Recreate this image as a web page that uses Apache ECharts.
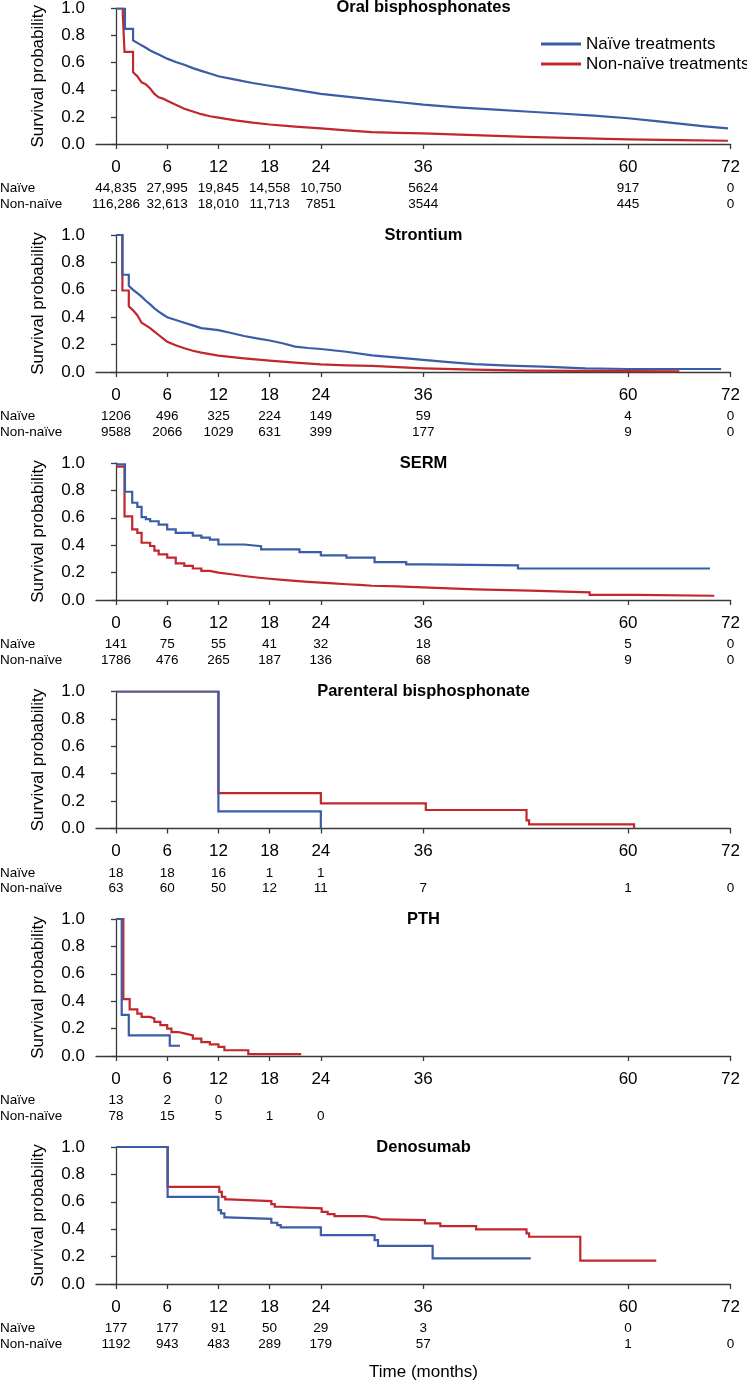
<!DOCTYPE html>
<html><head><meta charset="utf-8">
<script src="https://cdn.jsdelivr.net/npm/echarts@6/dist/echarts.min.js"></script>
<style>html,body{margin:0;padding:0;background:#fff}#c{width:747px;height:1381px}</style>
</head><body><div id="c"></div>
<script>
// ---------- DATA ----------
const panelTitles = ['Oral bisphosphonates', 'Strontium', 'SERM', 'Parenteral bisphosphonate', 'PTH', 'Denosumab'];
const tickMonths = [0, 6, 12, 18, 24, 36, 60, 72];
const seriesNames = ['Naïve treatments', 'Non-naïve treatments'];
const riskRowLabels = ['Naïve', 'Non-naïve'];
const xAxisTitle = 'Time (months)';
const yAxisTitle = 'Survival probability';

// numbers at risk (one entry per tick month, shorter rows stop early)
const oralRiskNaive = ['44,835', '27,995', '19,845', '14,558', '10,750', '5624', '917', '0'];
const oralRiskNonNaive = ['116,286', '32,613', '18,010', '11,713', '7851', '3544', '445', '0'];
const strontiumRiskNaive = ['1206', '496', '325', '224', '149', '59', '4', '0'];
const strontiumRiskNonNaive = ['9588', '2066', '1029', '631', '399', '177', '9', '0'];
const sermRiskNaive = ['141', '75', '55', '41', '32', '18', '5', '0'];
const sermRiskNonNaive = ['1786', '476', '265', '187', '136', '68', '9', '0'];
const parenteralRiskNaive = ['18', '18', '16', '1', '1'];
const parenteralRiskNonNaive = ['63', '60', '50', '12', '11', '7', '1', '0'];
const pthRiskNaive = ['13', '2', '0'];
const pthRiskNonNaive = ['78', '15', '5', '1', '0'];
const denosumabRiskNaive = ['177', '177', '91', '50', '29', '3', '0'];
const denosumabRiskNonNaive = ['1192', '943', '483', '289', '179', '57', '1', '0'];

// Survival curves: [month, survival probability]
// Oral bisphosphonates & strontium: dense curves given as vertices (repeated month = vertical drop)
const oralNaive = [[0,1],[1.05,1],[1.05,0.85],[2.0,0.85],[2.0,0.765],[2.8,0.735],[3.5,0.71],[4,0.69],[5,0.66],[6,0.63],[7,0.605],[8,0.585],[9,0.56],[10,0.54],[11,0.52],[12,0.50],[14,0.475],[16,0.45],[18,0.43],[20,0.41],[22,0.39],[24,0.37],[27,0.35],[30,0.33],[33,0.31],[36,0.29],[40,0.27],[44,0.255],[48,0.24],[52,0.225],[56,0.21],[60,0.19],[63,0.17],[66,0.15],[69,0.13],[71.7,0.115]];
const oralNonNaive = [[0,1],[0.8,1],[0.8,0.95],[1.0,0.95],[1.0,0.68],[2.0,0.68],[2.0,0.53],[2.5,0.50],[3,0.455],[3.5,0.44],[4,0.41],[4.5,0.37],[5,0.345],[5.5,0.335],[6,0.32],[7,0.29],[8,0.26],[9,0.24],[10,0.22],[11,0.205],[12,0.195],[14,0.175],[16,0.158],[18,0.144],[21,0.128],[24,0.115],[27,0.10],[30,0.087],[33,0.082],[36,0.078],[42,0.065],[48,0.053],[54,0.043],[60,0.034],[66,0.028],[71.7,0.024]];
const strontiumNaive = [[0,1],[0.75,1],[0.75,0.71],[1.5,0.71],[1.5,0.63],[2,0.60],[2.5,0.575],[3,0.55],[3.5,0.52],[4,0.494],[4.5,0.465],[5,0.44],[5.5,0.42],[6,0.40],[7,0.38],[8,0.36],[9,0.34],[10,0.32],[12,0.306],[13.5,0.285],[15,0.263],[16.5,0.245],[18,0.23],[19.5,0.21],[21,0.185],[22.5,0.175],[24,0.168],[27,0.148],[30,0.122],[33,0.105],[36,0.088],[39,0.072],[42,0.058],[46,0.047],[50,0.039],[55,0.027],[60,0.022],[70.9,0.022]];
const strontiumNonNaive = [[0,1],[0.75,1],[0.75,0.595],[1.5,0.595],[1.5,0.48],[2,0.45],[2.5,0.415],[3,0.36],[3.5,0.34],[4,0.32],[4.5,0.295],[5,0.27],[5.5,0.245],[6,0.22],[7,0.195],[8,0.173],[9,0.155],[10,0.141],[12,0.119],[15,0.10],[18,0.083],[21,0.068],[24,0.056],[27,0.049],[30,0.044],[33,0.035],[36,0.027],[42,0.018],[48,0.01],[54,0.008],[60,0.007],[66,0.005]];
// Remaining panels: Kaplan-Meier steps (value holds until the next month listed)
const sermNaive = [[0,0.99],[1.05,0.79],[1.9,0.71],[2.5,0.68],[3,0.605],[3.5,0.59],[4,0.575],[5,0.55],[6,0.515],[7,0.49],[9,0.47],[10,0.455],[11,0.44],[12,0.405],[15,0.393],[17,0.37],[21.5,0.35],[24,0.326],[27,0.309],[30.3,0.277],[34,0.26],[36,0.253],[47.1,0.23],[69.6,0.23]];
const sermNonNaive = [[0,0.973],[1.0,0.61],[1.9,0.515],[2.5,0.49],[3,0.418],[4,0.394],[4.5,0.36],[5,0.333],[6,0.31],[7,0.268],[8,0.249],[9,0.23],[10,0.213],[11,0.2],[12,0.188],[13.5,0.175],[15,0.164],[16.5,0.155],[18,0.147],[19.5,0.14],[21,0.133],[22.5,0.127],[24,0.121],[25.5,0.115],[27,0.11],[28.5,0.104],[30,0.099],[33,0.092],[36,0.085],[39,0.077],[42.2,0.068],[48.5,0.056],[55.5,0.038],[61,0.031],[70.1,0.031]];
const parenteralNaive = [[0,1],[12,0.125],[24,0]];
const parenteralNonNaive = [[0,1],[12,0.258],[24,0.184],[36.3,0.135],[48.1,0.06],[48.4,0.03],[60.7,0]];
const pthNaive = [[0,1],[0.67,0.30],[1.5,0.15],[6.3,0.075],[7.5,0.075]];
const pthNonNaive = [[0,1],[0.86,0.415],[1.6,0.34],[2.5,0.31],[3,0.285],[4,0.273],[4.5,0.249],[5.2,0.225],[6,0.20],[6.5,0.175],[7.3,0.165],[8,0.151],[9,0.127],[10,0.102],[11,0.085],[12,0.066],[12.7,0.042],[15.5,0.013],[21.7,0.013]];
const denosumabNaive = [[0,1],[6.05,0.636],[12,0.539],[12.3,0.515],[12.7,0.486],[13,0.476],[18.2,0.447],[18.9,0.43],[19.3,0.413],[24,0.357],[30.3,0.32],[30.7,0.279],[37.1,0.187],[48.6,0.187]];
const denosumabNonNaive = [[0,1],[6.05,0.709],[12.1,0.672],[12.4,0.636],[12.8,0.617],[13.2,0.605],[18.2,0.583],[18.6,0.564],[19.3,0.552],[24.1,0.527],[24.8,0.51],[25.6,0.495],[29.2,0.485],[30.5,0.471],[31.1,0.466],[36.2,0.442],[38,0.423],[42.2,0.398],[48.1,0.369],[48.4,0.345],[54.4,0.17],[63.3,0.17]];

// ---------- BUILD ----------
const panels = [
  { naive: oralNaive, nonNaive: oralNonNaive, riskN: oralRiskNaive, riskNN: oralRiskNonNaive, step: false },
  { naive: strontiumNaive, nonNaive: strontiumNonNaive, riskN: strontiumRiskNaive, riskNN: strontiumRiskNonNaive, step: false },
  { naive: sermNaive, nonNaive: sermNonNaive, riskN: sermRiskNaive, riskNN: sermRiskNonNaive, step: 'end' },
  { naive: parenteralNaive, nonNaive: parenteralNonNaive, riskN: parenteralRiskNaive, riskNN: parenteralRiskNonNaive, step: 'end' },
  { naive: pthNaive, nonNaive: pthNonNaive, riskN: pthRiskNaive, riskNN: pthRiskNonNaive, step: 'end' },
  { naive: denosumabNaive, nonNaive: denosumabNonNaive, riskN: denosumabRiskNaive, riskNN: denosumabRiskNonNaive, step: 'end' }
];

const FONT = '"Liberation Sans", Arial, Helvetica, sans-serif';
const BLUE = '#3B5CA6';
const RED = '#C1272D';
const AXIS = '#3a3a3a';
const GRID_LEFT = 96, GRID_W = 634.5, GRID_H = 137;
const panelTop = [7, 235, 463, 691.5, 919, 1147];
const X_MIN = -2.343, X_MAX = 72;

const grid = [], xAxis = [], yAxis = [], series = [], graphic = [];

function riskAxis(i, arr, margin) {
  return {
    gridIndex: i, type: 'value', min: X_MIN, max: X_MAX, position: 'bottom',
    axisLine: { show: false }, axisTick: { show: false }, splitLine: { show: false },
    axisLabel: {
      customValues: tickMonths.slice(0, arr.length),
      formatter: v => { const k = tickMonths.indexOf(Math.round(v)); return k >= 0 ? arr[k] : ''; },
      fontSize: 13.5, fontFamily: FONT, color: '#000', margin: margin
    }
  };
}

panels.forEach((p, i) => {
  const top = panelTop[i];
  grid.push({ left: GRID_LEFT, top: top, width: GRID_W, height: GRID_H });
  xAxis.push({
    gridIndex: i, type: 'value', min: X_MIN, max: X_MAX, position: 'bottom',
    axisLine: { show: true, lineStyle: { color: AXIS, width: 1.3 } },
    axisTick: { show: true, customValues: tickMonths, length: 5, lineStyle: { color: AXIS, width: 1.3 } },
    axisLabel: { customValues: tickMonths, fontSize: 17, fontFamily: FONT, color: '#000', margin: 14.5 },
    splitLine: { show: false }
  });
  xAxis.push(riskAxis(i, p.riskN, 37.5));
  xAxis.push(riskAxis(i, p.riskNN, 53));
  yAxis.push({
    gridIndex: i, type: 'value', min: 0, max: 1, interval: 0.2,
    axisLine: { show: true, lineStyle: { color: AXIS, width: 1.3 } },
    axisTick: { show: true, length: 5, lineStyle: { color: AXIS, width: 1.3 } },
    axisLabel: { formatter: v => v.toFixed(1), fontSize: 17, fontFamily: FONT, color: '#000', margin: 11 },
    splitLine: { show: false },
    name: yAxisTitle, nameLocation: 'middle', nameRotate: 90, nameGap: 49,
    nameTextStyle: { fontSize: 17, fontFamily: FONT, color: '#000' }
  });
  const xi = 3 * i;
  series.push({
    name: seriesNames[1], type: 'line', step: p.step, xAxisIndex: xi, yAxisIndex: i,
    data: p.nonNaive, showSymbol: false, symbol: 'none', silent: true,
    lineStyle: { color: RED, width: 2.2, join: 'miter' }, itemStyle: { color: RED }, z: 2
  });
  series.push({
    name: seriesNames[0], type: 'line', step: p.step, xAxisIndex: xi, yAxisIndex: i,
    data: p.naive, showSymbol: false, symbol: 'none', silent: true,
    lineStyle: { color: BLUE, width: 2.2, join: 'miter' }, itemStyle: { color: BLUE }, z: 4
  });
  graphic.push({
    type: 'text', x: 423.5, y: top,
    style: { text: panelTitles[i], fontSize: 16.5, fontWeight: 'bold', fontFamily: FONT, fill: '#000', align: 'center', verticalAlign: 'middle' }
  });
  const axisY = top + GRID_H;
  riskRowLabels.forEach((lab, r) => {
    graphic.push({
      type: 'text', x: 0, y: axisY + (r === 0 ? 44.5 : 60),
      style: { text: lab, fontSize: 13.5, fontFamily: FONT, fill: '#000', align: 'left', verticalAlign: 'middle' }
    });
  });
});

graphic.push({
  type: 'text', x: 423.5, y: 1372,
  style: { text: xAxisTitle, fontSize: 17, fontFamily: FONT, fill: '#000', align: 'center', verticalAlign: 'middle' }
});

const chart = echarts.init(document.getElementById('c'), null, { renderer: 'canvas' });
chart.setOption({
  animation: false,
  backgroundColor: '#fff',
  textStyle: { fontFamily: FONT },
  legend: {
    data: seriesNames, orient: 'vertical', left: 541, top: 34, padding: 0,
    itemWidth: 40, itemHeight: 3, icon: 'rect', itemGap: 0,
    textStyle: { fontSize: 17, lineHeight: 20, fontFamily: FONT, color: '#000' }
  },
  grid, xAxis, yAxis, series, graphic
});
</script>
</body></html>
